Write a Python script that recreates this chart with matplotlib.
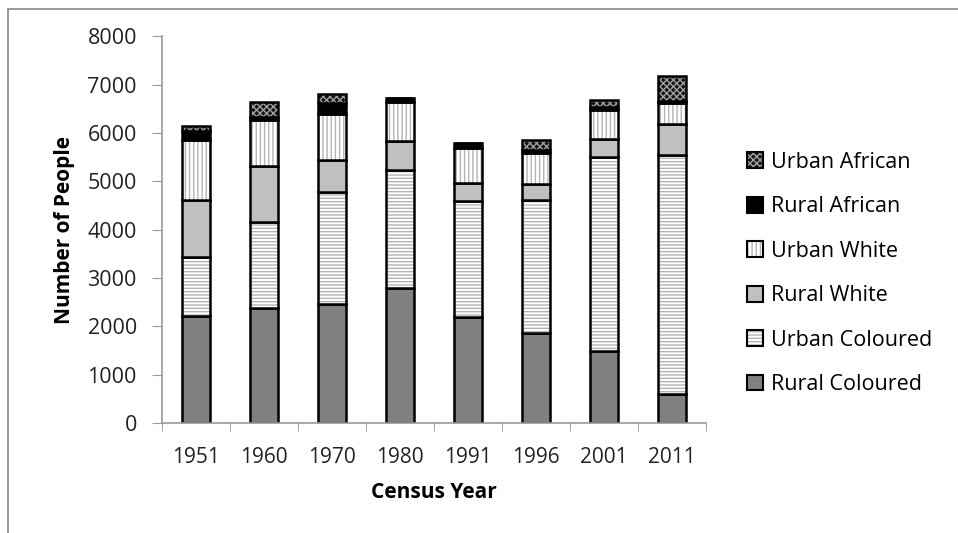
import numpy as np
import matplotlib
matplotlib.use("Agg")
import matplotlib.pyplot as plt
from matplotlib.patches import Patch, Rectangle

plt.rcParams['font.family'] = ['Open Sans', 'DejaVu Sans']
plt.rcParams['hatch.linewidth'] = 1.0

# Census years and stacked values (number of people)
years = ['1951', '1960', '1970', '1980', '1991', '1996', '2001', '2011']
rural_coloured = [2210, 2380, 2460, 2790, 2200, 1870, 1490, 610]
urban_coloured = [1230, 1770, 2320, 2450, 2390, 2750, 4010, 4930]
rural_white = [1170, 1160, 670, 590, 370, 330, 380, 640]
urban_white = [1250, 960, 950, 810, 720, 640, 600, 440]
rural_african = [180, 60, 220, 90, 110, 50, 60, 50]
urban_african = [100, 310, 190, 0, 0, 210, 150, 500]

series = [
    ("Rural Coloured", rural_coloured, '#808080', None, None),
    ("Urban Coloured", urban_coloured, 'white', '-----', '#b4b4b4'),
    ("Rural White", rural_white, '#c0c0c0', None, None),
    ("Urban White", urban_white, 'white', '||||', '#b4b4b4'),
    ("Rural African", rural_african, 'black', None, None),
    ("Urban African", urban_african, '#141414', 'xxxxx', '#a0a0a0'),
]

fig = plt.figure(figsize=(9.58, 5.33), dpi=100)
ax = fig.add_axes([0.169, 0.206, 0.568, 0.726])

x = np.arange(len(years))
bottom = np.zeros(len(years))
handles = []
for name, vals, fc, hatch, hc in series:
    vals = np.array(vals, dtype=float)
    if hatch:
        ax.bar(x, vals, 0.4, bottom=bottom, color=fc, hatch=hatch,
               edgecolor=hc, linewidth=0)
    else:
        ax.bar(x, vals, 0.4, bottom=bottom, color=fc, linewidth=0)
    ax.bar(x, vals, 0.4, bottom=bottom, fill=False, edgecolor='black', linewidth=1.8)
    bottom += vals
    h1 = Patch(facecolor=fc, hatch=hatch, edgecolor=hc if hatch else fc, linewidth=0)
    h2 = Patch(fill=False, edgecolor='black', linewidth=1.5)
    handles.append(((h1, h2), name))

ax.set_xlim(-0.5, len(years) - 0.5)
ax.set_ylim(0, 8000)
ax.set_yticks(np.arange(0, 8001, 1000))
ax.set_xticks(x)
ax.set_xticklabels(years)
ax.set_xticks(np.arange(-0.5, len(years)), minor=True)
ax.tick_params(axis='x', which='major', length=0, labelsize=15, pad=17, colors='#222222')
ax.tick_params(axis='x', which='minor', length=6, color='#999999')
ax.tick_params(axis='y', length=7, color='#999999', labelsize=15.5, pad=11, labelcolor='#222222')
for s in ['top', 'right']:
    ax.spines[s].set_visible(False)
for s in ['left', 'bottom']:
    ax.spines[s].set_color('#999999')
    ax.spines[s].set_linewidth(1.2)

ax.set_ylabel("Number of People", fontsize=15, fontweight='bold', labelpad=9)
ax.set_xlabel("Census Year", fontsize=15, fontweight='bold', labelpad=10)

hs = [h for h, n in handles][::-1]
ns = [n for h, n in handles][::-1]
ax.legend(hs, ns, loc='center left', bbox_to_anchor=(0.771, 0.487),
          bbox_transform=fig.transFigure, frameon=False, fontsize=15.5,
          handlelength=0.75, handleheight=0.75, handletextpad=0.35,
          labelspacing=1.09, borderaxespad=0)

# outer chart-area border
fig.patches.append(Rectangle((8 / 958, -0.1), 1.2, 1.1 - 9 / 533, transform=fig.transFigure,
                             fill=False, edgecolor='#888888', linewidth=1.2))

fig.savefig('out.png', dpi=100)
